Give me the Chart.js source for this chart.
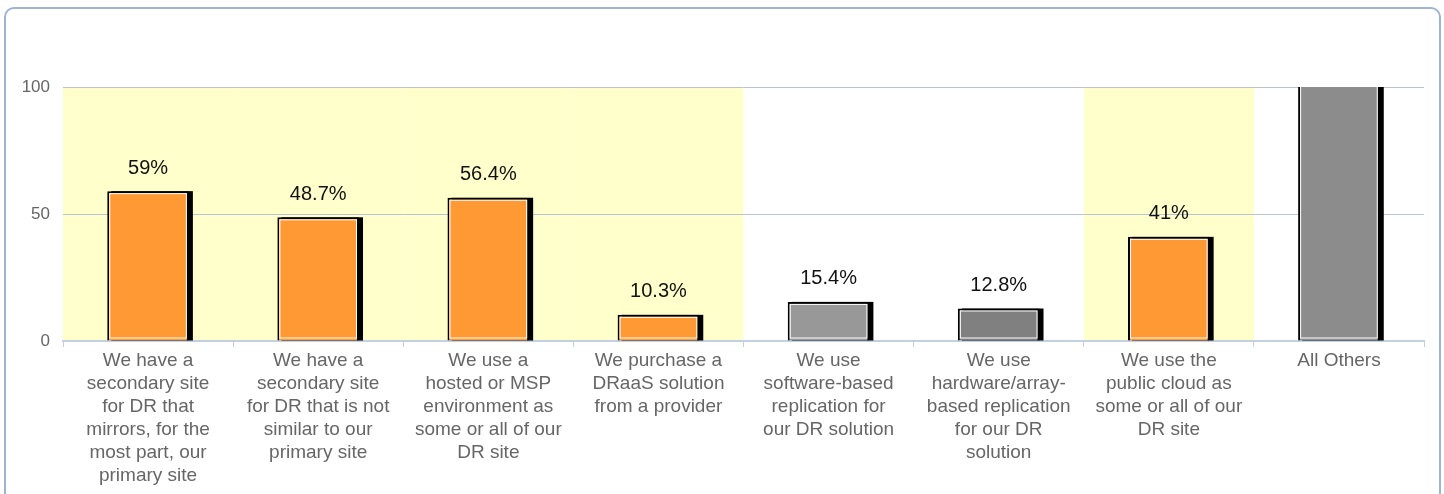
<!DOCTYPE html>
<html>
<head>
<meta charset="utf-8">
<script src="https://cdn.jsdelivr.net/npm/chart.js@4"></script>
<style>
  html, body { margin: 0; padding: 0; background: #fff; }
  .frame {
    position: absolute; left: 4px; top: 7px; width: 1433px; height: 500px;
    border: 2px solid #9db4d8; border-radius: 10px;
  }
  .wrap { position: absolute; left: 0; top: 0; width: 1444px; height: 494px; }
</style>
</head>
<body>
<div class="frame"></div>
<div class="wrap"><canvas id="drChart"></canvas></div>
<script>
// ===== data =====
const categories = [
  ['We have a', 'secondary site', 'for DR that', 'mirrors, for the', 'most part, our', 'primary site'],
  ['We have a', 'secondary site', 'for DR that is not', 'similar to our', 'primary site'],
  ['We use a', 'hosted or MSP', 'environment as', 'some or all of our', 'DR site'],
  ['We purchase a', 'DRaaS solution', 'from a provider'],
  ['We use', 'software-based', 'replication for', 'our DR solution'],
  ['We use', 'hardware/array-', 'based replication', 'for our DR', 'solution'],
  ['We use the', 'public cloud as', 'some or all of our', 'DR site'],
  ['All Others']
];
const values = [59, 48.7, 56.4, 10.3, 15.4, 12.8, 41, 110];
const valueLabels = ['59%', '48.7%', '56.4%', '10.3%', '15.4%', '12.8%', '41%', ''];
const highlighted = [true, true, true, true, false, false, true, false];
const barColors = ['#ff9933', '#ff9933', '#ff9933', '#ff9933', '#989898', '#808080', '#ff9933', '#8c8c8c'];
const yTicks = [0, 50, 100];

// ===== plugins =====
const bands = {
  id: 'bands',
  beforeDraw(chart) {
    const { ctx, chartArea, scales } = chart;
    const half = (scales.x.getPixelForValue(1) - scales.x.getPixelForValue(0)) / 2;
    ctx.save();
    ctx.fillStyle = '#ffffcc';
    highlighted.forEach((on, i) => {
      if (!on) return;
      const cx = scales.x.getPixelForValue(i);
      ctx.fillRect(cx - half, chartArea.top, half * 2, chartArea.bottom - chartArea.top);
    });
    ctx.restore();
  }
};

const barDeco = {
  id: 'barDeco',
  beforeDatasetsDraw(chart) {
    const { ctx, chartArea } = chart;
    ctx.save();
    ctx.beginPath();
    ctx.rect(chartArea.left, chartArea.top, chartArea.right - chartArea.left, chartArea.bottom - chartArea.top);
    ctx.clip();
    ctx.fillStyle = '#000';
    chart.getDatasetMeta(0).data.forEach(b => {
      ctx.fillRect(b.x - b.width / 2 + 4, b.y, b.width, b.base - b.y);
    });
    ctx.restore();
  },
  afterDatasetsDraw(chart) {
    const { ctx, chartArea } = chart;
    ctx.save();
    ctx.beginPath();
    ctx.rect(chartArea.left, chartArea.top, chartArea.right - chartArea.left, chartArea.bottom - chartArea.top);
    ctx.clip();
    ctx.strokeStyle = '#fff';
    ctx.lineWidth = 1;
    chart.getDatasetMeta(0).data.forEach(b => {
      ctx.strokeRect(b.x - b.width / 2 + 2.5, b.y + 2.5, b.width - 5, b.base - b.y - 5);
    });
    ctx.restore();

    // value labels
    ctx.save();
    ctx.fillStyle = '#111';
    ctx.font = '20px "Liberation Sans", Arial, sans-serif';
    ctx.textAlign = 'center';
    ctx.textBaseline = 'middle';
    chart.getDatasetMeta(0).data.forEach((b, i) => {
      if (!valueLabels[i]) return;
      ctx.fillText(valueLabels[i], b.x, b.y - 23);
    });
    ctx.restore();
  }
};

// ===== chart =====
new Chart(document.getElementById('drChart'), {
  type: 'bar',
  data: {
    labels: categories,
    datasets: [{
      data: values,
      backgroundColor: barColors,
      borderColor: '#000',
      borderWidth: 2,
      barPercentage: 0.48,
      categoryPercentage: 1
    }]
  },
  options: {
    responsive: true,
    maintainAspectRatio: false,
    animation: false,
    layout: { padding: { top: 87, right: 20, left: 0, bottom: 0 } },
    plugins: { legend: { display: false }, tooltip: { enabled: false } },
    scales: {
      x: {
        afterFit: s => { s.height = 153; },
        grid: { offset: true, drawOnChartArea: false, tickLength: 6, color: '#c3d0e4' },
        border: { color: '#c3d0e4', width: 2 },
        ticks: {
          color: '#666',
          padding: 2,
          maxRotation: 0,
          autoSkip: false,
          font: { family: '"Liberation Sans", Arial, sans-serif', size: 19, lineHeight: '23px' }
        }
      },
      y: {
        min: 0,
        max: 100,
        afterFit: s => { s.width = 63; },
        afterBuildTicks: s => { s.ticks = yTicks.map(v => ({ value: v })); },
        grid: { color: '#b9c3d3', drawTicks: false },
        border: { display: false },
        ticks: {
          color: '#666',
          padding: 13,
          font: { family: '"Liberation Sans", Arial, sans-serif', size: 17 }
        }
      }
    }
  },
  plugins: [bands, barDeco]
});
</script>
</body>
</html>
